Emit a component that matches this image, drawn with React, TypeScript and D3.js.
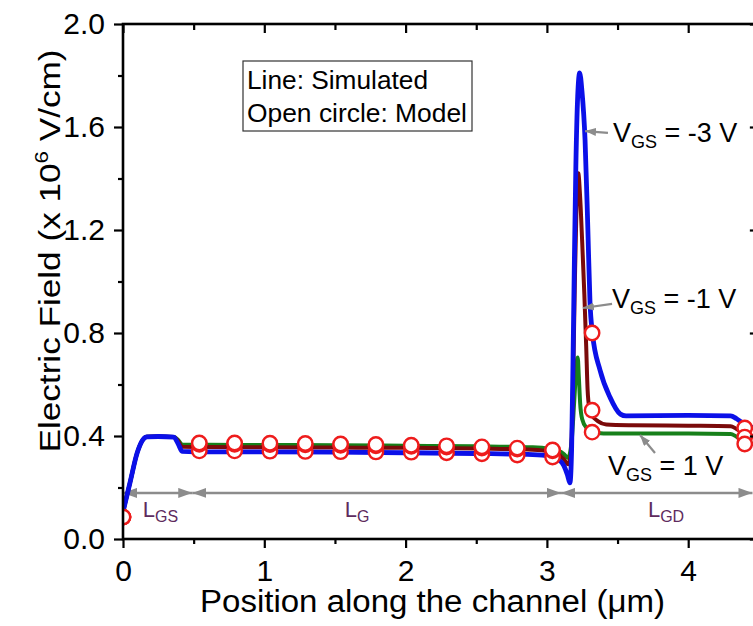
import React, { useEffect, useRef } from 'react';
import * as d3 from 'd3';

// simulated field profiles, [position (um), field (x1e6 V/cm)]
const simVgsMinus3: [number, number][] = [
  [0, 0.105], [0.05, 0.22], [0.1, 0.334], [0.14, 0.385], [0.17, 0.397], [0.25, 0.398], [0.36, 0.396],
  [0.39, 0.37], [0.42, 0.34], [0.6, 0.338], [1.0, 0.338], [1.5, 0.337], [2.0, 0.335], [2.5, 0.332],
  [2.9, 0.328], [3.02, 0.322], [3.08, 0.31], [3.12, 0.285], [3.145, 0.25], [3.163, 0.218], [3.175, 0.35],
  [3.185, 0.7], [3.195, 1.1], [3.205, 1.45], [3.218, 1.72], [3.232, 1.81], [3.248, 1.74], [3.27, 1.55],
  [3.29, 1.2], [3.305, 0.92], [3.322, 0.8], [3.376, 0.656], [3.447, 0.55], [3.52, 0.485],
  [3.56, 0.478], [4.0, 0.48], [4.3, 0.478], [4.34, 0.468], [4.38, 0.452], [4.42, 0.44], [4.46, 0.432],
];
const simVgsMinus1: [number, number][] = [
  [0, 0.105], [0.05, 0.22], [0.1, 0.334], [0.14, 0.385], [0.17, 0.397], [0.25, 0.398], [0.36, 0.396],
  [0.39, 0.38], [0.42, 0.358], [0.6, 0.357], [1.0, 0.356], [1.5, 0.355], [2.0, 0.354], [2.5, 0.351],
  [2.9, 0.347], [3.02, 0.34], [3.08, 0.33], [3.12, 0.31], [3.15, 0.29], [3.17, 0.33], [3.185, 0.6],
  [3.198, 1.0], [3.21, 1.3], [3.222, 1.42], [3.235, 1.33], [3.25, 1.15], [3.265, 0.95], [3.278, 0.75],
  [3.288, 0.58], [3.3, 0.51], [3.32, 0.48], [3.36, 0.458], [3.42, 0.445], [3.6, 0.442], [4.0, 0.44],
  [4.3, 0.438], [4.34, 0.428], [4.38, 0.415], [4.42, 0.405], [4.46, 0.4],
];
const simVgsPlus1: [number, number][] = [
  [0, 0.105], [0.05, 0.22], [0.1, 0.334], [0.14, 0.385], [0.17, 0.397], [0.25, 0.398], [0.36, 0.396],
  [0.39, 0.385], [0.42, 0.366], [0.6, 0.366], [1.0, 0.365], [1.5, 0.364], [2.0, 0.362], [2.5, 0.36],
  [2.9, 0.356], [3.02, 0.35], [3.08, 0.343], [3.12, 0.33], [3.15, 0.315], [3.175, 0.38], [3.195, 0.55],
  [3.21, 0.68], [3.218, 0.705], [3.226, 0.63], [3.235, 0.53], [3.25, 0.465], [3.28, 0.432], [3.32, 0.418],
  [3.4, 0.41], [4.0, 0.41], [4.3, 0.408], [4.34, 0.398], [4.38, 0.385], [4.42, 0.375], [4.46, 0.37],
];

// model points (open circles)
const modelX = [0, 0.54, 0.79, 1.04, 1.29, 1.54, 1.79, 2.04, 2.29, 2.54, 2.79, 3.04, 3.32, 4.4];
const modelVgsMinus3 = [0.085, 0.342, 0.342, 0.341, 0.34, 0.339, 0.338, 0.337, 0.335, 0.331, 0.326, 0.318, 0.8, 0.431];
const modelVgsMinus1 = [0.085, 0.368, 0.368, 0.367, 0.366, 0.364, 0.362, 0.36, 0.357, 0.353, 0.349, 0.342, 0.5, 0.396];
const modelVgsPlus1 = [0.085, 0.373, 0.373, 0.372, 0.371, 0.369, 0.367, 0.364, 0.362, 0.358, 0.353, 0.346, 0.415, 0.369];

const xMajor = [0, 1, 2, 3, 4];
const xMinor = [0.5, 1.5, 2.5, 3.5, 4.5];
const yMajor = [0, 0.4, 0.8, 1.2, 1.6, 2.0];
const yMinor = [0.2, 0.6, 1.0, 1.4, 1.8];

// gate regions along the channel
const regions = [
  { sub: 'GS', from: 0, to: 0.49, labelX: 0.14 },
  { sub: 'G', from: 0.49, to: 3.1, labelX: 1.57 },
  { sub: 'GD', from: 3.1, to: 4.455, labelX: 3.715 },
];

const vgsLabels = [
  { text: ' = -3 V', tx: 3.468, ty: 1.542, from: [3.432, 1.577], to: [3.27, 1.584] },
  { text: ' = -1 V', tx: 3.461, ty: 0.897, from: [3.461, 0.913], to: [3.255, 0.897] },
  { text: ' = 1 V', tx: 3.432, ty: 0.249, from: [3.765, 0.334], to: [3.659, 0.404] },
];

const FONT = '"Liberation Sans", Arial, Helvetica, sans-serif';

const App = () => {
  const ref = useRef<SVGSVGElement>(null);

  useEffect(() => {
    const svg = d3.select(ref.current);
    svg.selectAll('*').remove();

    const left = 123, top = 24, bottom = 539;
    const x = d3.scaleLinear().domain([0, 4.5]).range([left, left + 141.3 * 4.5]);
    const y = d3.scaleLinear().domain([0, 2]).range([bottom, top]);
    const right = x(4.5);
    const grey = '#8c8c8c';

    const defs = svg.append('defs');
    defs.append('clipPath').attr('id', 'plotClip')
      .append('rect').attr('x', left).attr('y', top).attr('width', right - left).attr('height', bottom - top);
    defs.append('marker').attr('id', 'dimHead')
      .attr('viewBox', '0 0 14 10').attr('refX', 14).attr('refY', 5)
      .attr('markerWidth', 14).attr('markerHeight', 10).attr('markerUnits', 'userSpaceOnUse')
      .attr('orient', 'auto-start-reverse')
      .append('path').attr('d', 'M0,0L14,5L0,10Z').attr('fill', grey);
    defs.append('marker').attr('id', 'noteHead')
      .attr('viewBox', '0 0 11 8').attr('refX', 11).attr('refY', 4)
      .attr('markerWidth', 11).attr('markerHeight', 8).attr('markerUnits', 'userSpaceOnUse')
      .attr('orient', 'auto')
      .append('path').attr('d', 'M0,0L11,4L0,8Z').attr('fill', grey);

    // dimension arrows
    const dim = svg.append('g');
    regions.forEach(r => {
      dim.append('line')
        .attr('x1', x(r.from)).attr('x2', x(r.to)).attr('y1', y(0.179)).attr('y2', y(0.179))
        .attr('stroke', grey).attr('stroke-width', 2.5)
        .attr('marker-start', 'url(#dimHead)').attr('marker-end', 'url(#dimHead)');
      const t = dim.append('text').attr('x', x(r.labelX)).attr('y', y(0.085))
        .attr('font-family', FONT).attr('font-size', 22).attr('fill', '#5e2b5e');
      t.append('tspan').text('L');
      t.append('tspan').attr('dy', 5).attr('font-size', 16).text(r.sub);
    });

    // simulated lines
    const line = d3.line<[number, number]>().x(d => x(d[0])).y(d => y(d[1])).curve(d3.curveMonotoneX);
    const plot = svg.append('g').attr('clip-path', 'url(#plotClip)');
    [
      { data: simVgsPlus1, color: '#17801a', w: 4 },
      { data: simVgsMinus1, color: '#7a0a0a', w: 4 },
      { data: simVgsMinus3, color: '#0b10e8', w: 4.8 },
    ].forEach(s => {
      plot.append('path').datum(s.data).attr('d', line)
        .attr('fill', 'none').attr('stroke', s.color).attr('stroke-width', s.w)
        .attr('stroke-linejoin', 'round');
    });

    // model circles
    [modelVgsMinus3, modelVgsMinus1, modelVgsPlus1].forEach(vals => {
      plot.append('g').selectAll('circle')
        .data(vals)
        .enter()
        .append('circle')
        .attr('cx', (_, i) => x(modelX[i]))
        .attr('cy', d => y(d))
        .attr('r', 7.2)
        .attr('fill', '#fff')
        .attr('stroke', '#ee1c1c')
        .attr('stroke-width', 2.4);
    });

    // axes
    const styleAxis = (g: any) => {
      g.select('.domain').remove();
      g.selectAll('line').attr('stroke', '#000').attr('stroke-width', 2.2);
    };
    svg.append('g').attr('transform', `translate(0,${bottom})`)
      .call(d3.axisBottom(x).tickValues(xMinor).tickSize(5).tickFormat(() => ''))
      .call(styleAxis);
    svg.append('g').attr('transform', `translate(0,${bottom})`)
      .call(d3.axisBottom(x).tickValues(xMajor).tickSize(9).tickFormat(d3.format('d')))
      .call(styleAxis)
      .call(g => g.selectAll('text').attr('y', 42).attr('dy', null)
        .attr('font-family', FONT).attr('font-size', 30).attr('fill', '#000'));
    svg.append('g').attr('transform', `translate(${left},0)`)
      .call(d3.axisLeft(y).tickValues(yMinor).tickSize(5).tickFormat(() => ''))
      .call(styleAxis);
    svg.append('g').attr('transform', `translate(${left},0)`)
      .call(d3.axisLeft(y).tickValues(yMajor).tickSize(9).tickPadding(9).tickFormat(d3.format('.1f')))
      .call(styleAxis)
      .call(g => g.selectAll('text').attr('font-family', FONT).attr('font-size', 30).attr('fill', '#000'));
    svg.append('g').attr('transform', `translate(0,${top})`)
      .call(d3.axisTop(x).tickValues(xMajor).tickSize(-9).tickFormat(() => ''))
      .call(styleAxis);
    svg.append('g').attr('transform', `translate(0,${top})`)
      .call(d3.axisTop(x).tickValues(xMinor).tickSize(-6).tickFormat(() => ''))
      .call(styleAxis);
    svg.append('g').attr('transform', `translate(${right},0)`)
      .call(d3.axisRight(y).tickValues(yMajor).tickSize(-9).tickFormat(() => ''))
      .call(styleAxis);
    svg.append('g').attr('transform', `translate(${right},0)`)
      .call(d3.axisRight(y).tickValues(yMinor).tickSize(-5).tickFormat(() => ''))
      .call(styleAxis);
    svg.append('rect')
      .attr('x', left).attr('y', top).attr('width', right - left).attr('height', bottom - top)
      .attr('fill', 'none').attr('stroke', '#000').attr('stroke-width', 2.6);

    // axis titles
    svg.append('text')
      .attr('x', 200).attr('y', 612)
      .attr('font-family', FONT).attr('font-size', 31)
      .attr('textLength', 465).attr('lengthAdjust', 'spacingAndGlyphs')
      .text('Position along the channel (\u03bcm)');
    const yt = svg.append('text')
      .attr('transform', 'translate(60,251) rotate(-90)')
      .attr('text-anchor', 'middle')
      .attr('font-family', FONT).attr('font-size', 30)
      .attr('textLength', 403).attr('lengthAdjust', 'spacingAndGlyphs');
    yt.append('tspan').text('Electric Field (x 10');
    yt.append('tspan').attr('dy', -12).attr('font-size', 19).text('6');
    yt.append('tspan').attr('dy', 12).text(' V/cm)');

    // legend box
    const lg = svg.append('g');
    lg.append('rect').attr('x', 243).attr('y', 61).attr('width', 229).attr('height', 70)
      .attr('fill', '#fff').attr('stroke', '#333').attr('stroke-width', 1.2);
    lg.append('text').attr('x', 247).attr('y', 89)
      .attr('font-family', FONT).attr('font-size', 25)
      .attr('textLength', 181).attr('lengthAdjust', 'spacingAndGlyphs')
      .text('Line: Simulated');
    lg.append('text').attr('x', 247).attr('y', 122)
      .attr('font-family', FONT).attr('font-size', 25)
      .attr('textLength', 220).attr('lengthAdjust', 'spacingAndGlyphs')
      .text('Open circle: Model');

    // V_GS annotations
    vgsLabels.forEach(a => {
      svg.append('line')
        .attr('x1', x(a.from[0])).attr('y1', y(a.from[1]))
        .attr('x2', x(a.to[0])).attr('y2', y(a.to[1]))
        .attr('stroke', grey).attr('stroke-width', 2.2)
        .attr('marker-end', 'url(#noteHead)');
      const t = svg.append('text').attr('x', x(a.tx)).attr('y', y(a.ty))
        .attr('font-family', FONT).attr('font-size', 27).attr('fill', '#000');
      t.append('tspan').text('V');
      t.append('tspan').attr('dy', 6).attr('font-size', 18).text('GS');
      t.append('tspan').attr('dy', -6).text(a.text);
    });
  }, []);

  return (
    <svg
      ref={ref}
      width={753}
      height={626}
      style={{ position: 'absolute', left: 0, top: 0, background: '#fff', overflow: 'hidden' }}
    />
  );
};

export default App;
